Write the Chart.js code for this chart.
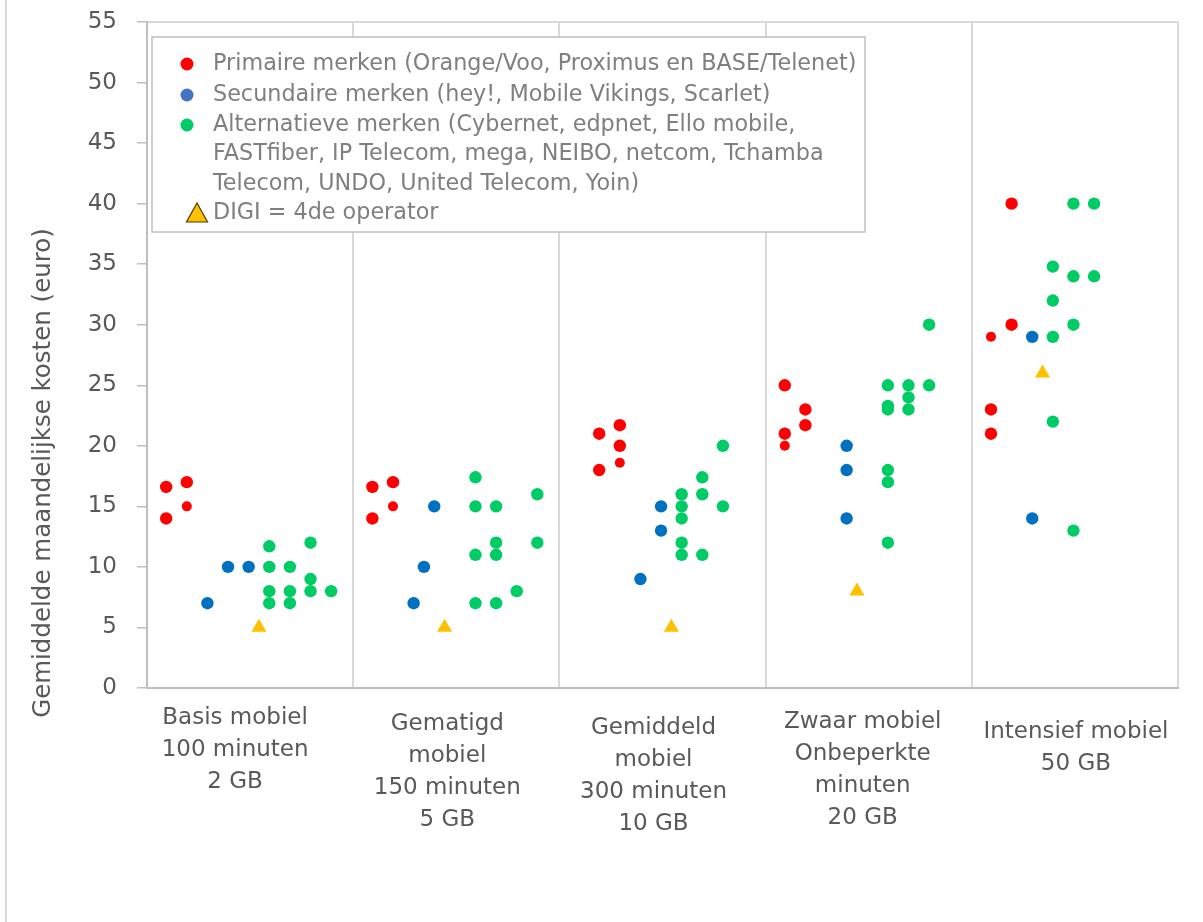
<!DOCTYPE html>
<html>
<head>
<meta charset="utf-8">
<script src="https://cdn.jsdelivr.net/npm/chart.js@4.4.1/dist/chart.umd.min.js"></script>
<style>
    html, body { margin: 0; padding: 0; background: #fff; }
    #wrap { width: 1203px; height: 922px; position: relative; }
</style>
</head>
<body>
<div id="wrap"><canvas id="chart" width="1203" height="922"></canvas></div>
<script>
// Category labels (one entry per line)
var categories = [
    ['Basis mobiel', '100 minuten', '2 GB'],
    ['Gematigd', 'mobiel', '150 minuten', '5 GB'],
    ['Gemiddeld', 'mobiel', '300 minuten', '10 GB'],
    ['Zwaar mobiel', 'Onbeperkte', 'minuten', '20 GB'],
    ['Intensief mobiel', '50 GB']
];

var yTitle = 'Gemiddelde maandelijkse kosten (euro)';
var yMin = 0, yMax = 55, yStep = 5;

// Series: column slot inside each category (1..9) and the monthly cost
var primaireSlots = [[1, 1, 2, 2], [1, 1, 2, 2], [2, 2, 3, 3, 3], [1, 1, 1, 2, 2], [1, 1, 1, 2, 2]];
var primaireValues = [[16.6, 14, 17, 15], [16.6, 14, 17, 15], [21, 18, 21.7, 20, 18.6], [25, 21, 20, 23, 21.7], [29, 23, 21, 40, 30]];

var secundaireSlots = [[3, 4, 5], [3, 3.5, 4], [4, 5, 5], [4, 4, 4], [3, 3]];
var secundaireValues = [[7, 10, 10], [7, 10, 15], [9, 15, 13], [20, 18, 14], [29, 14]];

var alternatieveSlots = [
    [6, 6, 6, 6, 7, 7, 7, 8, 8, 8, 9],
    [6, 6, 6, 6, 7, 7, 7, 7, 8, 9, 9],
    [6, 6, 6, 6, 6, 7, 7, 7, 8, 8],
    [6, 6, 6, 6, 6, 6, 7, 7, 7, 8, 8],
    [4, 4, 4, 4, 5, 5, 5, 5, 6, 6]
];
var alternatieveValues = [
    [11.7, 10, 8, 7, 10, 8, 7, 12, 9, 8, 8],
    [17.4, 15, 11, 7, 15, 12, 11, 7, 8, 16, 12],
    [16, 15, 14, 12, 11, 17.4, 16, 11, 20, 15],
    [25, 23.3, 23, 18, 17, 12, 25, 24, 23, 30, 25],
    [34.8, 32, 29, 22, 40, 34, 30, 13, 40, 34]
];

var digiSlots = [[5.5], [4.5], [5.5], [4.5], [3.5]];
var digiValues = [[5], [5], [5], [8], [26]];

// Legend texts
var legendPrimaire = ['Primaire merken (Orange/Voo, Proximus en BASE/Telenet)'];
var legendSecundaire = ['Secundaire merken (hey!, Mobile Vikings, Scarlet)'];
var legendAlternatieve = ['Alternatieve merken (Cybernet, edpnet, Ello mobile,',
    'FASTfiber, IP Telecom, mega, NEIBO, netcom, Tchamba',
    'Telecom, UNDO, United Telecom, Yoin)'];
var legendDigi = ['DIGI = 4de operator'];

// ---- styling / layout ----
var FONT = "'DejaVu Sans', Verdana, sans-serif";
var TEXT_COLOR = '#595959';
var X_SHIFT = 0.07;
var smallPrimaire = [[3], [3], [4], [2], [0]];
var labelLayout = [ // [dx, first line y]
    [-15, 718], [-9, 724], [-9, 728], [-6, 722], [1, 732]
];

function buildPoints(slots, values) {
    var pts = [];
    slots.forEach(function(row, c) {
        row.forEach(function(s, k) {
            pts.push({ x: c * 10 + s, y: values[c][k] });
        });
    });
    return pts;
}

var primaireRadius = [];
primaireSlots.forEach(function(row, c) {
    row.forEach(function(s, k) {
        primaireRadius.push(smallPrimaire[c].indexOf(k) >= 0 ? 5 : 6.2);
    });
});

// Extra drawing: frame, plot border, category labels, axis title, legend
var extrasPlugin = {
    id: 'extras',
    beforeDraw: function(chart) {
        var ctx = chart.ctx;
        var a = chart.chartArea;
        ctx.save();
        ctx.fillStyle = '#fff';
        ctx.fillRect(0, 0, chart.width, chart.height);
        ctx.strokeStyle = '#d9d9d9';
        ctx.lineWidth = 2;
        ctx.beginPath();
        ctx.moveTo(6, 0);
        ctx.lineTo(6, chart.height);
        ctx.stroke();
        ctx.beginPath();
        ctx.moveTo(a.left, a.top);
        ctx.lineTo(a.right, a.top);
        ctx.stroke();
        ctx.restore();
    },
    afterDraw: function(chart) {
        var ctx = chart.ctx;
        var xs = chart.scales.x;
        ctx.save();

        // category labels
        ctx.fillStyle = TEXT_COLOR;
        ctx.font = '23px ' + FONT;
        ctx.textAlign = 'center';
        ctx.textBaseline = 'middle';
        categories.forEach(function(lines, i) {
            var cx = xs.getPixelForValue(X_SHIFT + i * 10 + 5) + labelLayout[i][0];
            lines.forEach(function(line, j) {
                ctx.fillText(line, cx, labelLayout[i][1] + j * 32);
            });
        });

        // y axis title
        ctx.save();
        ctx.translate(44, 473);
        ctx.rotate(-Math.PI / 2);
        ctx.font = '24.5px ' + FONT;
        ctx.fillText(yTitle, 0, 0);
        ctx.restore();

        // legend box
        ctx.fillStyle = '#fff';
        ctx.fillRect(152, 37, 713, 195);
        ctx.strokeStyle = '#bfbfbf';
        ctx.lineWidth = 1.5;
        ctx.strokeRect(152, 37, 713, 195);

        var items = [
            { lines: legendPrimaire, color: '#ff0000', y: 64 },
            { lines: legendSecundaire, color: '#4472c4', y: 95 },
            { lines: legendAlternatieve, color: '#00cc66', y: 125 },
            { lines: legendDigi, color: '#ffc000', y: 213, triangle: true }
        ];
        ctx.font = '22.3px ' + FONT;
        ctx.textAlign = 'left';
        items.forEach(function(it) {
            if (it.triangle) {
                ctx.beginPath();
                ctx.moveTo(197, 203);
                ctx.lineTo(207.5, 222);
                ctx.lineTo(186.5, 222);
                ctx.closePath();
                ctx.fillStyle = it.color;
                ctx.fill();
                ctx.strokeStyle = '#4d3d00';
                ctx.lineWidth = 1.2;
                ctx.stroke();
            } else {
                ctx.beginPath();
                ctx.arc(187, it.y, 6.5, 0, Math.PI * 2);
                ctx.fillStyle = it.color;
                ctx.fill();
            }
            ctx.fillStyle = '#7f7f7f';
            it.lines.forEach(function(line, j) {
                ctx.fillText(line, 213, it.y + j * 29.5);
            });
        });
        ctx.restore();
    }
};

var yTicks = [];
for (var v = yMin; v <= yMax; v += yStep) yTicks.push(v);

var ctx = document.getElementById('chart').getContext('2d');
var chart = new Chart(ctx, {
    type: 'scatter',
    data: {
        datasets: [{
            label: legendPrimaire.join(' '),
            data: buildPoints(primaireSlots, primaireValues),
            backgroundColor: '#ff0000',
            pointRadius: primaireRadius,
            pointBorderWidth: 0,
            order: 4
        }, {
            label: legendSecundaire.join(' '),
            data: buildPoints(secundaireSlots, secundaireValues),
            backgroundColor: '#0070c0',
            pointRadius: 6.2,
            pointBorderWidth: 0,
            order: 3
        }, {
            label: legendAlternatieve.join(' '),
            data: buildPoints(alternatieveSlots, alternatieveValues),
            backgroundColor: '#00cc66',
            pointRadius: 6.2,
            pointBorderWidth: 0,
            order: 2
        }, {
            label: legendDigi.join(' '),
            data: buildPoints(digiSlots, digiValues),
            backgroundColor: '#ffc000',
            pointStyle: 'triangle',
            pointRadius: 8.7,
            pointBorderWidth: 0,
            order: 1
        }]
    },
    options: {
        responsive: false,
        animation: false,
        devicePixelRatio: 1,
        events: [],
        layout: { padding: { top: 22, right: 25, left: 0, bottom: 0 } },
        plugins: {
            legend: { display: false },
            tooltip: { enabled: false }
        },
        scales: {
            x: {
                type: 'linear',
                min: X_SHIFT,
                max: X_SHIFT + categories.length * 10,
                afterBuildTicks: function(scale) {
                    scale.ticks = categories.map(function(c, i) {
                        return { value: X_SHIFT + i * 10 };
                    }).concat([{ value: X_SHIFT + categories.length * 10 }]);
                },
                afterFit: function(scale) {
                    scale.height = 234;
                    scale.paddingLeft = 0;
                    scale.paddingRight = 0;
                },
                ticks: { display: false },
                grid: { color: '#d9d9d9', lineWidth: 2, drawTicks: false },
                border: { display: true, color: '#bfbfbf', width: 2 }
            },
            y: {
                min: yMin,
                max: yMax,
                afterBuildTicks: function(scale) {
                    scale.ticks = yTicks.map(function(t) { return { value: t }; });
                },
                afterFit: function(scale) {
                    scale.width = 147;
                    scale.paddingTop = 0;
                    scale.paddingBottom = 0;
                },
                ticks: {
                    color: TEXT_COLOR,
                    font: { family: FONT, size: 23 },
                    padding: 20
                },
                grid: {
                    drawOnChartArea: false,
                    drawTicks: true,
                    tickLength: 10,
                    color: '#bfbfbf',
                    lineWidth: 1.5
                },
                border: { display: true, color: '#bfbfbf', width: 2 }
            }
        }
    },
    plugins: [extrasPlugin]
});
</script>
</body>
</html>
